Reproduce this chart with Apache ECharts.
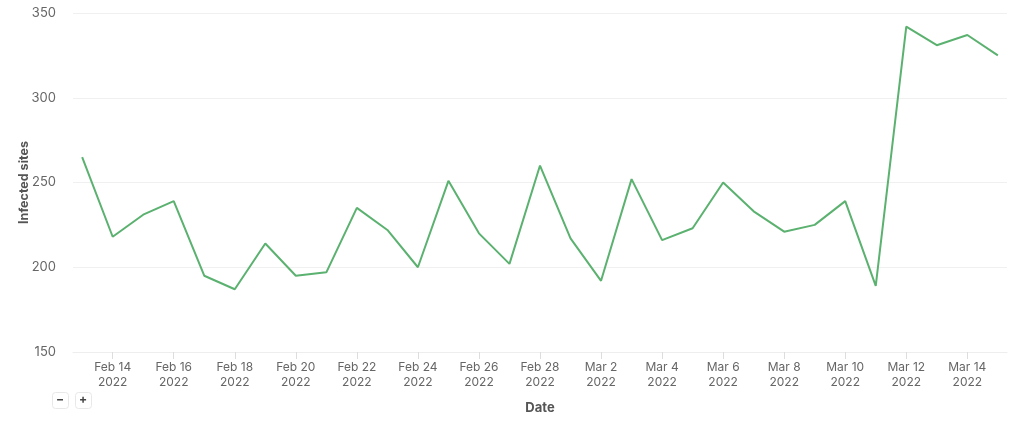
<!DOCTYPE html>
<html>
<head>
<meta charset="utf-8">
<script src="https://cdn.jsdelivr.net/npm/echarts@6/dist/echarts.min.js"></script>
<style>
html,body{margin:0;padding:0;background:#fff;}
#chart{width:1024px;height:424px;}
</style>
</head>
<body>
<div id="chart"></div>
<script>
const dates = ['2022-02-13','2022-02-14','2022-02-15','2022-02-16','2022-02-17','2022-02-18','2022-02-19','2022-02-20','2022-02-21','2022-02-22','2022-02-23','2022-02-24','2022-02-25','2022-02-26','2022-02-27','2022-02-28','2022-03-01','2022-03-02','2022-03-03','2022-03-04','2022-03-05','2022-03-06','2022-03-07','2022-03-08','2022-03-09','2022-03-10','2022-03-11','2022-03-12','2022-03-13','2022-03-14','2022-03-15'];
const infectedSites = [265,218,231,239,195,187,214,195,197,235,222,200,251,220,202,260,217,192,252,216,223,250,233,221,225,239,189,342,331,337,325];
const tickDates = ['2022-02-14','2022-02-16','2022-02-18','2022-02-20','2022-02-22','2022-02-24','2022-02-26','2022-02-28','2022-03-02','2022-03-04','2022-03-06','2022-03-08','2022-03-10','2022-03-12','2022-03-14'];
const yTicks = [150,200,250,300,350];
const xAxisName = 'Date';
const yAxisName = 'Infected sites';

const MONTHS = ['Jan','Feb','Mar','Apr','May','Jun','Jul','Aug','Sep','Oct','Nov','Dec'];
const DAY = 86400000;
function ts(s){ const p = s.split('-').map(Number); return new Date(p[0], p[1]-1, p[2]).getTime(); }
const seriesData = dates.map((d,i)=>[ts(d), infectedSites[i]]);
const tickValues = tickDates.map(ts);
const FONT = 'Inter, Roboto, "Noto Sans", sans-serif';

const chart = echarts.init(document.getElementById('chart'), null, {renderer:'canvas'});
chart.setOption({
  animation:false,
  backgroundColor:'#fff',
  grid:{left:73, right:17, top:13, bottom:72, containLabel:false},
  xAxis:{
    type:'value',
    min: ts(dates[0]) - 0.3*DAY,
    max: ts(dates[dates.length-1]) + 0.3*DAY,
    scale:true,
    name: xAxisName,
    nameLocation:'middle',
    nameGap:50,
    nameMoveOverlap:false,
    nameTextStyle:{fontFamily:FONT, fontSize:13, fontWeight:'bold', color:'#555'},
    axisLine:{show:true, lineStyle:{color:'#eeeeee', width:1}},
    axisTick:{show:true, customValues:tickValues, length:7, lineStyle:{color:'#dddddd'}},
    splitLine:{show:false},
    axisLabel:{
      customValues:tickValues,
      fontFamily:FONT, fontSize:12, color:'#666', lineHeight:15, margin:8,
      formatter:function(v){ const d=new Date(v); return MONTHS[d.getMonth()]+' '+d.getDate()+'\n'+d.getFullYear(); }
    }
  },
  yAxis:{
    type:'value',
    min:yTicks[0], max:yTicks[yTicks.length-1], interval:50,
    name: yAxisName,
    nameLocation:'middle',
    nameGap:42,
    nameMoveOverlap:false,
    nameTextStyle:{fontFamily:FONT, fontSize:12.5, fontWeight:'bold', color:'#555'},
    axisLine:{show:false},
    axisTick:{show:false},
    splitLine:{show:true, lineStyle:{color:'#f0f0f0', width:1}},
    axisLabel:{fontFamily:FONT, fontSize:13, color:'#666', margin:17}
  },
  series:[{
    type:'line',
    data:seriesData,
    showSymbol:false,
    symbol:'none',
    lineStyle:{color:'#5bb16f', width:2},
    itemStyle:{color:'#5bb16f'}
  }],
  graphic:[
    {type:'rect', left:52, top:392, shape:{width:16, height:16, r:3}, style:{fill:'#fff', stroke:'#e8e8e8', lineWidth:1}},
    {type:'text', left:56, top:393, style:{text:'−', font:'bold 12px '+FONT, fill:'#444'}},
    {type:'rect', left:75, top:392, shape:{width:16, height:16, r:3}, style:{fill:'#fff', stroke:'#e8e8e8', lineWidth:1}},
    {type:'text', left:79, top:393, style:{text:'+', font:'bold 12px '+FONT, fill:'#444'}}
  ]
});
</script>
</body>
</html>
